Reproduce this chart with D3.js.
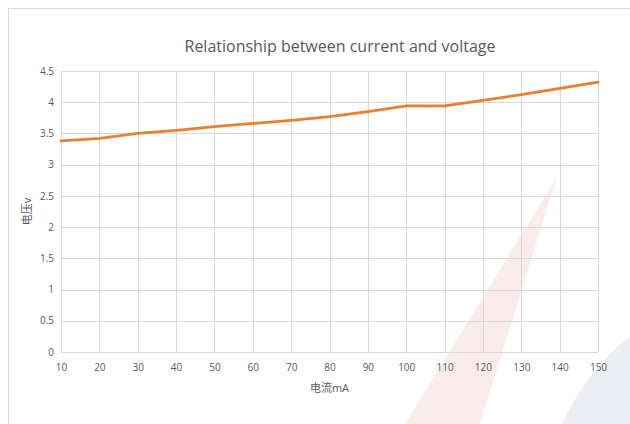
<!DOCTYPE html>
<html>
<head>
<meta charset="utf-8">
<script src="https://cdn.jsdelivr.net/npm/d3@7"></script>
<style>
  html, body { margin: 0; padding: 0; background: #ffffff; }
  svg { display: block; }
  text { font-family: "Open Sans", "Noto Sans CJK SC", sans-serif; }
</style>
</head>
<body>
<svg id="chart" width="630" height="424"></svg>
<script>
// ---- data ----
const currents = [10, 20, 30, 40, 50, 60, 70, 80, 90, 100, 110, 120, 130, 140, 150];
const voltages = [3.38, 3.42, 3.50, 3.55, 3.61, 3.66, 3.71, 3.77, 3.85, 3.94, 3.94, 4.03, 4.12, 4.22, 4.32];
const yTicks = [0, 0.5, 1, 1.5, 2, 2.5, 3, 3.5, 4, 4.5];
const titleText = "Relationship between current and voltage";
const xLabel = "电流mA";
const yLabel = "电压v";

const W = 630, H = 424;
const svg = d3.select("#chart");

// frame border
svg.append("rect").attr("x", 8.5).attr("y", 8.5).attr("width", 640).attr("height", 440)
  .attr("fill", "#ffffff").attr("stroke", "#d9d9d9").attr("stroke-width", 1);

// faint watermark shapes (decorative)
const wm = svg.append("g").attr("class", "watermark");
wm.append("path").attr("d", "M557,177 L405,424 L480,424 Z").attr("fill", "#faeceb");
wm.append("path").attr("d", "M630,336 Q586,372 562,424 L630,424 Z").attr("fill", "#ecedf2");

const margin = { left: 61, right: W - 598, top: 71, bottom: H - 352 };
const x = d3.scaleLinear().domain([10, 150]).range([margin.left, W - margin.right]);
const y = d3.scaleLinear().domain([0, 4.5]).range([H - margin.bottom, margin.top]);

// gridlines
const grid = svg.append("g");
grid.selectAll("line.h").data(yTicks).join("line")
  .attr("x1", x(10)).attr("x2", x(150))
  .attr("y1", d => Math.round(y(d)) + 0.5).attr("y2", d => Math.round(y(d)) + 0.5)
  .attr("stroke", "#d9d9d9").attr("stroke-width", 1);
grid.selectAll("line.v").data(currents).join("line")
  .attr("y1", y(0)).attr("y2", y(4.5))
  .attr("x1", d => Math.round(x(d)) + 0.5).attr("x2", d => Math.round(x(d)) + 0.5)
  .attr("stroke", "#d9d9d9").attr("stroke-width", 1);

// axes (labels only)
const xAxis = svg.append("g").attr("transform", `translate(0,${y(0)})`)
  .call(d3.axisBottom(x).tickValues(currents).tickSize(0).tickPadding(12));
xAxis.select(".domain").remove();
xAxis.selectAll("text").attr("fill", "#595959").style("font-size", "10px");

const yAxis = svg.append("g").attr("transform", `translate(${x(10)},0)`)
  .call(d3.axisLeft(y).tickValues(yTicks).tickFormat(d => String(d)).tickSize(0).tickPadding(7));
yAxis.select(".domain").remove();
yAxis.selectAll("text").attr("fill", "#595959").style("font-size", "10px");

// line
const line = d3.line().x((d, i) => x(currents[i])).y(d => y(d));
svg.append("path").datum(voltages).attr("d", line)
  .attr("fill", "none").attr("stroke", "#ed7d31").attr("stroke-width", 2.8)
  .attr("stroke-linejoin", "round").attr("stroke-linecap", "round");

// title
svg.append("text").attr("x", 340).attr("y", 52).attr("text-anchor", "middle")
  .attr("fill", "#595959").style("font-size", "16px").text(titleText);

// axis titles
svg.append("text").attr("x", (x(10) + x(150)) / 2).attr("y", 392).attr("text-anchor", "middle")
  .attr("fill", "#595959").style("font-size", "11px").text(xLabel);
svg.append("text").attr("transform", `translate(31,${(y(0) + y(4.5)) / 2}) rotate(-90)`)
  .attr("text-anchor", "middle").attr("fill", "#595959").style("font-size", "11px").text(yLabel);
</script>
</body>
</html>
